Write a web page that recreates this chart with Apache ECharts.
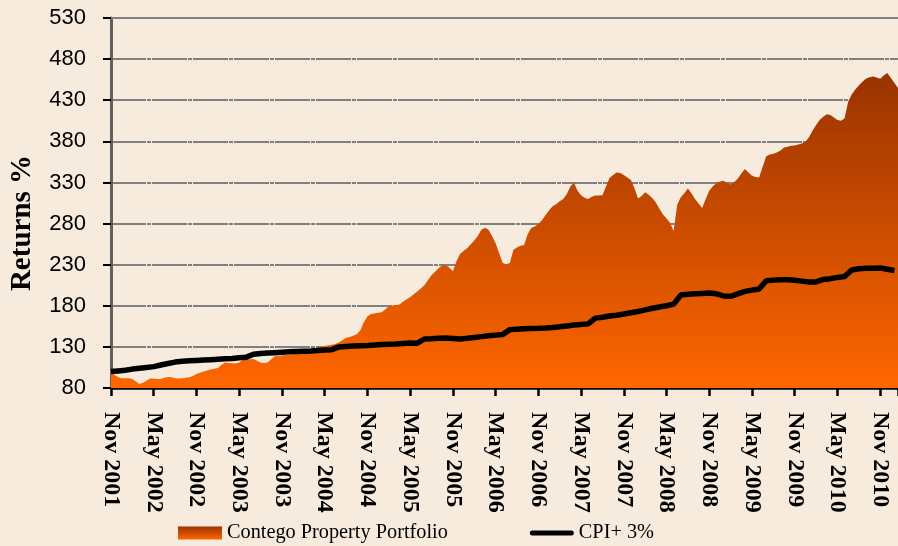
<!DOCTYPE html>
<html>
<head>
<meta charset="utf-8">
<script src="https://cdn.jsdelivr.net/npm/echarts@6/dist/echarts.min.js"></script>
<style>
html,body{margin:0;padding:0;background:#F6EBDC;}
#chart{width:898px;height:546px;}
</style>
</head>
<body>
<div id="chart"></div>
<script>
// Tick labels (every 6 months, starting Nov 2001)
var tickLabels = ['Nov 2001','May 2002','Nov 2002','May 2003','Nov 2003','May 2004','Nov 2004','May 2005','Nov 2005','May 2006','Nov 2006','May 2007','Nov 2007','May 2008','Nov 2008','May 2009','Nov 2009','May 2010','Nov 2010'];
var yTicks = [80,130,180,230,280,330,380,430,480,530];

// Contego Property Portfolio, half-monthly from Nov 2001
var portfolio = [97,96,93,92,92,92,91,88,85,86.5,
89,91.5,91.5,91,91,92.5,93.5,93,92,91.7,
92,92.5,93,94.5,97,98.5,100,101.2,102.5,103.5,
104.3,108,111,110.5,110,109.7,111,114,114.8,115,
115.3,113,111,110.5,111,115,118.5,119,119.5,120,
120.5,121,121.5,122.5,123,124,124.5,126.5,129,130.6,
131.2,132,132.5,133.5,135.5,138,141,142,143.5,145.5,
150,160,167,170,170.5,171.5,172,175.5,179.5,180,
181,181.5,185,188,190.5,194,197.5,201,205,211,
217,221.5,225.5,229,229.5,226.5,222,234,243,246.5,
250,254.5,259.5,265,272.5,275,272.5,265,256,244,
232,230.5,232,248,251,253,254,267,274.5,276.5,
279.5,284,290,296,301,303.5,307,310,316,325,
330,320,314.5,311.5,310,312.5,314,314,314.5,325,
335.5,339,342,341.5,339,336,333,323,310.5,313.5,
318,315,311,305.5,298,291,286,281,271,303,
312,317,322.5,317,310,304.5,299,310,320,325.5,
329,331,332,329.5,327.5,330.5,334.5,341,346.5,342,
338,336.5,336,349,362,364,365,366.5,369,372.5,
373.5,374.5,375,376,377.5,379.5,385,393,400,406,
410,413,412,409,406,405,408,428,437,443,
448,452.5,456,458,459,457.5,456,460,463,457,
451,445];

// CPI + 3%, monthly from Nov 2001
var cpi = [100,100.8,101.5,103,104,105,106,108,109.8,111.5,
112.5,113,113.5,114,114.5,115,115.5,116,116.8,117.5,
121,122,122.5,123,123.5,124,124.5,124.8,125,125.7,
126.2,126.6,130,130.5,131,131.5,131.8,132.2,132.8,133.2,
133.6,134.2,134.6,134.5,139.6,140,140.5,140.8,140.3,139.6,
140.5,141.5,142.5,143.5,144.3,145,151,151.5,152,152.3,
152.6,153,153.5,154.5,155.5,156.5,157.3,158,165,166,
167.5,168.5,170,171.6,173,175,177,178.5,180,182,
193,194,194.5,195,195.5,194.5,192,191.5,194.5,197.5,
199,200.4,210.5,211.2,211.7,211.7,211,210,209,209,
212,213,214.5,215.5,223.5,225,225.5,225.5,226,224.5,
223];

var seriesNames = ['Contego Property Portfolio', 'CPI+ 3%'];

var portfolioData = portfolio.map(function (v, i) { return [i / 2, v]; });
var cpiData = cpi.map(function (v, i) { return [i, v]; });

function areaGradient() {
  return new echarts.graphic.LinearGradient(0, 0, 0, 1, [
    {offset: 0, color: '#993300'},
    {offset: 1, color: '#FF6600'}
  ]);
}

var chart = echarts.init(document.getElementById('chart'), null, {renderer: 'canvas'});
var xMax = (portfolio.length - 1) / 2;
chart.setOption({
  backgroundColor: '#F6EBDC',
  animation: false,
  grid: {left: 110, right: 0, top: 18, bottom: 158},
  legend: {
    left: 178, top: 523, padding: 0,
    itemWidth: 44, itemHeight: 13, itemGap: 82,
    symbolKeepAspect: true,
    textStyle: {fontFamily: 'Liberation Serif', fontSize: 20.3, color: '#000'},
    data: [
      {name: seriesNames[0], icon: 'rect', itemStyle: {color: areaGradient()}},
      {name: seriesNames[1], icon: 'path://M2.5,0 L41.5,0 A2.5,2.5 0 0 1 41.5,5 L2.5,5 A2.5,2.5 0 0 1 2.5,0 Z', itemStyle: {color: '#000'}}
    ]
  },
  xAxis: [{
    type: 'value', min: 0, max: xMax, interval: 6,
    axisLine: {show: true, onZero: false, lineStyle: {color: '#000', width: 2.5}},
    axisTick: {show: true, length: 8, lineStyle: {color: '#000', width: 2.5}},
    splitLine: {show: false},
    axisLabel: {
      rotate: -90, margin: 24, color: '#000',
      fontFamily: 'Liberation Serif', fontWeight: 'bold', fontSize: 24,
      formatter: function (v) { return (v % 6 === 0 && tickLabels[v / 6]) ? tickLabels[v / 6] : ''; }
    }
  }, {
    type: 'value', position: 'top', min: 0, max: xMax,
    axisLine: {show: true, onZero: false, lineStyle: {color: '#808080', width: 2}},
    axisTick: {show: false}, axisLabel: {show: false}, splitLine: {show: false}
  }],
  yAxis: {
    type: 'value', min: yTicks[0], max: yTicks[yTicks.length - 1], interval: 50,
    name: 'Returns %', nameLocation: 'middle', nameRotate: 90, nameGap: 74,
    nameTextStyle: {fontFamily: 'Liberation Serif', fontWeight: 'bold', fontSize: 29, color: '#000', padding: [0, 40, 0, 0]},
    axisLine: {show: true, onZero: false, lineStyle: {color: '#606060', width: 3}},
    axisTick: {show: true, length: 8, lineStyle: {color: '#000', width: 2}},
    axisLabel: {margin: 25, fontFamily: 'Liberation Sans', fontSize: 22, color: '#000'},
    splitLine: {show: true, lineStyle: {color: '#808080', width: 2, type: [35, 1, 4, 1]}}
  },
  series: [{
    name: seriesNames[0], type: 'line', xAxisIndex: 0,
    data: portfolioData, symbol: 'none', showSymbol: false,
    lineStyle: {width: 0, color: '#CC4400'},
    itemStyle: {color: '#CC4400'},
    areaStyle: {color: areaGradient(), opacity: 1},
    z: 2
  }, {
    name: seriesNames[1], type: 'line', xAxisIndex: 0,
    data: cpiData, symbol: 'none', showSymbol: false,
    lineStyle: {width: 5.5, color: '#000'},
    itemStyle: {color: '#000'},
    z: 3
  }]
});
</script>
</body>
</html>
